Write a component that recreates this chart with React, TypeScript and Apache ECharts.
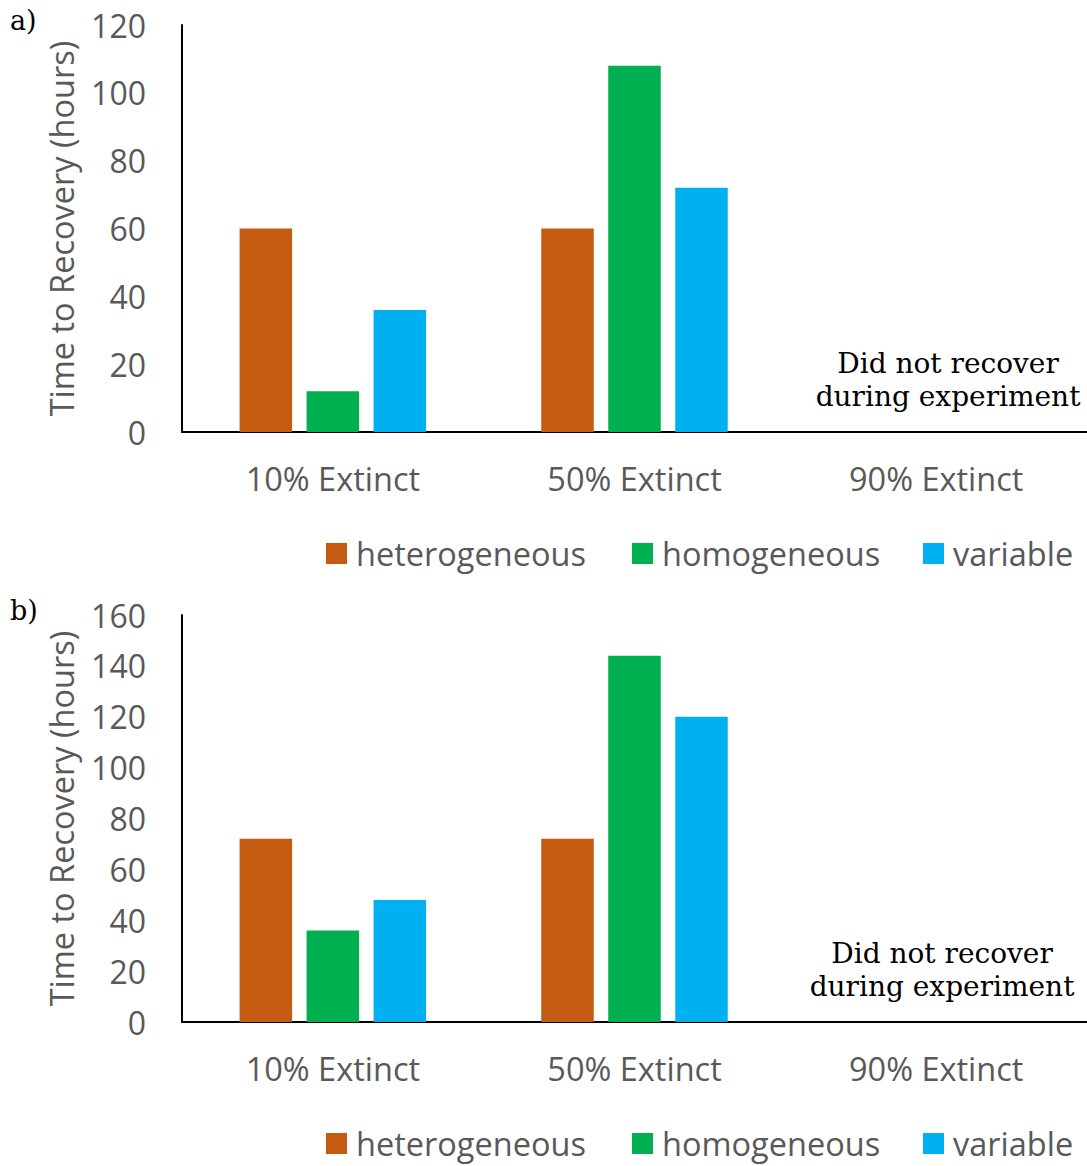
import React, { useEffect, useRef } from "react";
import * as echarts from "echarts";

const categories = ["10% Extinct", "50% Extinct", "90% Extinct"];
const seriesNames = ["heterogeneous", "homogeneous", "variable"];
const colors = ["#C55A11", "#00B050", "#00B0F0"];

const panelA_het = [60, 60, null];
const panelA_hom = [12, 108, null];
const panelA_var = [36, 72, null];

const panelB_het = [72, 72, null];
const panelB_hom = [36, 144, null];
const panelB_var = [48, 120, null];

const panelA_yMax = 120;
const panelB_yMax = 160;
const yInterval = 20;

const annotation = "Did not recover\nduring experiment";
const panelLabels = ["a)", "b)"];

const FONT = "Open Sans";
const GRAY = "#595959";

export default function App() {
  const ref = useRef<HTMLDivElement>(null);
  useEffect(() => {
    if (!ref.current) return;
    const chart = echarts.init(ref.current, undefined, { renderer: "svg" });
    const gridTops = [25, 615];
    const gridH = 407;
    const yMaxes = [panelA_yMax, panelB_yMax];
    const data = [
      [panelA_het, panelA_hom, panelA_var],
      [panelB_het, panelB_hom, panelB_var],
    ];
    const legendLefts = [326, 632, 923];

    const grids = gridTops.map((t) => ({ left: 182, top: t, width: 905, height: gridH }));
    const xAxes = gridTops.map((_, i) => ({
      type: "category",
      gridIndex: i,
      data: categories,
      axisLine: { show: true, lineStyle: { color: "#000", width: 2 } },
      axisTick: { show: false },
      axisLabel: { color: GRAY, fontFamily: FONT, fontSize: 32.5, margin: 30 },
    }));
    const yAxes = gridTops.map((_, i) => ({
      type: "value",
      gridIndex: i,
      min: 0,
      max: yMaxes[i],
      interval: yInterval,
      name: "Time to Recovery (hours)",
      nameLocation: "middle",
      nameGap: 104,
      nameTextStyle: { color: GRAY, fontFamily: FONT, fontSize: 32.5 },
      axisLine: { show: true, lineStyle: { color: "#000", width: 2 } },
      axisTick: { show: false },
      splitLine: { show: false },
      axisLabel: { color: GRAY, fontFamily: FONT, fontSize: 32, margin: 36 },
    }));
    const series: any[] = [];
    data.forEach((panel, gi) => {
      panel.forEach((vals, si) => {
        series.push({
          type: "bar",
          name: seriesNames[si],
          xAxisIndex: gi,
          yAxisIndex: gi,
          data: vals,
          barWidth: 52.5,
          barGap: "27.6%",
          itemStyle: { color: colors[si] },
        });
      });
    });
    const legends: any[] = [];
    gridTops.forEach((t, gi) => {
      seriesNames.forEach((n, si) => {
        legends.push({
          data: [n],
          left: legendLefts[si],
          top: t + gridH + 105,
          icon: "rect",
          itemWidth: 21,
          itemHeight: 21,
          itemGap: 10,
          padding: 0,
          selectedMode: false,
          textStyle: { color: GRAY, fontFamily: FONT, fontSize: 32.5, padding: [0, 0, 0, 4] },
        });
      });
    });
    const graphic: any[] = [];
    gridTops.forEach((t, gi) => {
      graphic.push({
        type: "text",
        left: 10,
        top: t - 18,
        style: { text: panelLabels[gi], font: "27px 'DejaVu Serif'", fill: "#000" },
      });
      graphic.push({
        type: "text",
        x: gi === 0 ? 948 : 942,
        y: t + 355,
        style: {
          text: annotation,
          font: "28px 'DejaVu Serif'",
          fill: "#000",
          align: "center",
          verticalAlign: "middle",
          lineHeight: 33,
        },
      });
    });
    chart.setOption({
      animation: false,
      backgroundColor: "#fff",
      grid: grids,
      xAxis: xAxes,
      yAxis: yAxes,
      series,
      legend: legends,
      graphic,
    });
    return () => chart.dispose();
  }, []);
  return (
    <div
      ref={ref}
      style={{ position: "fixed", left: 0, top: 0, width: 1087, height: 1166 }}
    />
  );
}
